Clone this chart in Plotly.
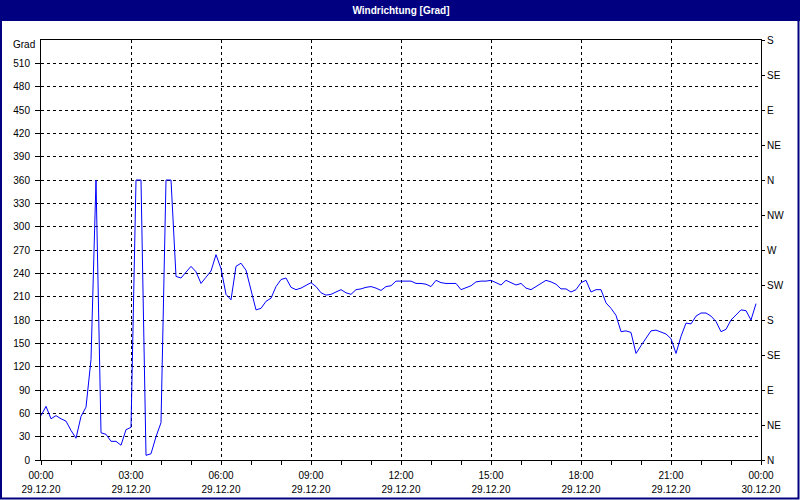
import pandas as pd
import plotly.graph_objects as go

# ---- data (10-minute samples, 29.12.20 00:00 .. 23:50) ----
start_time = "2020-12-29 00:00"
end_time = "2020-12-30 00:00"
wind_dir = [
    57, 69, 53, 57, 53, 50, 38, 28, 56, 68,
    129, 360, 35, 33, 24, 24, 19, 39, 42, 360,
    360, 6, 8, 30, 48, 360, 360, 236, 234, 242,
    249, 242, 227, 235, 243, 264, 246, 213, 206, 249,
    253, 244, 219, 193, 195, 204, 208, 223, 232, 234,
    222, 219, 221, 224, 228, 223, 215, 212, 213, 216,
    219, 215, 213, 219, 220, 222, 223, 221, 218, 223,
    224, 230, 230, 230, 230, 227, 227, 226, 223, 231,
    228, 227, 227, 227, 219, 221, 224, 229, 230, 230,
    231, 228, 225, 231, 228, 225, 227, 221, 219, 223,
    228, 231, 229, 226, 220, 220, 216, 219, 228, 231,
    216, 219, 219, 202, 195, 186, 165, 166, 164, 137,
    147, 156, 166, 167, 165, 162, 156, 137, 159, 176,
    175, 185, 189, 189, 185, 178, 165, 168, 180, 186,
    193, 192, 180, 201,
]
times = pd.date_range(start_time, periods=len(wind_dir), freq="10min")

left_tick_vals = list(range(0, 540, 30))
left_unit_label = "Grad"
compass_vals = list(range(0, 541, 45))
compass_labels = ["N", "NE", "E", "SE", "S", "SW", "W", "NW", "N", "NE", "E", "SE", "S"]
title_text = "Windrichtung [Grad]"

# ---- layout constants ----
W, H = 800, 500
L, R, T, B = 41, 39, 40, 40
PW, PH = W - L - R, H - T - B
NAVY = "#000080"
FONT = "Liberation Sans, Arial, sans-serif"


def px(xp):
    return (xp - L) / PW


def py(yp):
    return (H - B - yp) / PH


fig = go.Figure()
fig.add_trace(go.Scatter(
    x=times, y=wind_dir, mode="lines",
    line=dict(color="#0000FF", width=1),
    xaxis="x", yaxis="y", hoverinfo="skip", showlegend=False,
))
# invisible companion trace so the secondary axes are drawn
fig.add_trace(go.Scatter(
    x=times, y=wind_dir, mode="lines", opacity=0,
    line=dict(color="rgba(0,0,0,0)", width=0),
    xaxis="x2", yaxis="y2", hoverinfo="skip", showlegend=False,
))

grid = dict(showgrid=True, gridcolor="black", gridwidth=1, griddash="3px,3px")

fig.update_layout(
    width=W, height=H, autosize=False,
    margin=dict(l=L, r=R, t=T, b=B, pad=0, autoexpand=False),
    paper_bgcolor="white", plot_bgcolor="white",
    font=dict(family=FONT, size=10, color="black"),
    showlegend=False,
    title=dict(
        text="<b>" + title_text + "</b>",
        font=dict(family="Liberation Sans Narrow, Liberation Sans, Arial", size=10, color="white"),
        x=0.5, xanchor="center", xref="paper",
        y=1 - 10.5 / H, yanchor="middle", yref="container",
        automargin=False,
    ),
    xaxis=dict(
        type="date", range=[start_time, end_time],
        tickmode="linear", tick0=start_time, dtick=3 * 3600 * 1000,
        tickformat="%H:%M",
        ticks="outside", ticklen=4, tickcolor="black", tickwidth=1,
        minor=dict(dtick=3600 * 1000, tick0=start_time, ticks="outside",
                   ticklen=4, tickcolor="black", showgrid=False),
        showline=True, linecolor="black", linewidth=1, mirror=True,
        zeroline=False, ticklabelstandoff=2, automargin=False,
        **grid,
    ),
    xaxis2=dict(
        type="date", range=[start_time, end_time], overlaying="x",
        side="bottom", anchor="y",
        tickmode="linear", tick0=start_time, dtick=3 * 3600 * 1000,
        tickformat="%d.%m.%y", ticks="", showgrid=False, showline=False,
        zeroline=False, ticklabelstandoff=22, automargin=False,
    ),
    yaxis=dict(
        range=[0, 540], tickmode="array", tickvals=left_tick_vals,
        ticks="outside", ticklen=5, tickcolor="black",
        showline=True, linecolor="black", linewidth=1, mirror=True,
        zeroline=False, ticklabelstandoff=3, automargin=False,
        **grid,
    ),
    yaxis2=dict(
        range=[0, 540], overlaying="y", side="right", anchor="x",
        tickmode="array", tickvals=compass_vals, ticktext=compass_labels,
        ticks="outside", ticklen=3, tickcolor="black",
        showgrid=False, showline=False, zeroline=False, ticklabelstandoff=0,
        automargin=False,
    ),
    shapes=[
        # title bar
        dict(type="rect", xref="paper", yref="paper",
             x0=px(0), x1=px(W), y0=py(21), y1=py(0),
             fillcolor=NAVY, line=dict(width=0), layer="below"),
        # window frame
        dict(type="rect", xref="paper", yref="paper",
             x0=px(1), x1=px(798.5), y0=py(498.5), y1=py(1),
             fillcolor="rgba(0,0,0,0)", line=dict(color=NAVY, width=2), layer="above"),
    ],
    annotations=[
        dict(text=left_unit_label, xref="paper", yref="paper",
             x=px(36.5), y=py(45), xanchor="right", yanchor="middle",
             showarrow=False, font=dict(family=FONT, size=10, color="black")),
    ],
)

fig.write_html("out.html")
